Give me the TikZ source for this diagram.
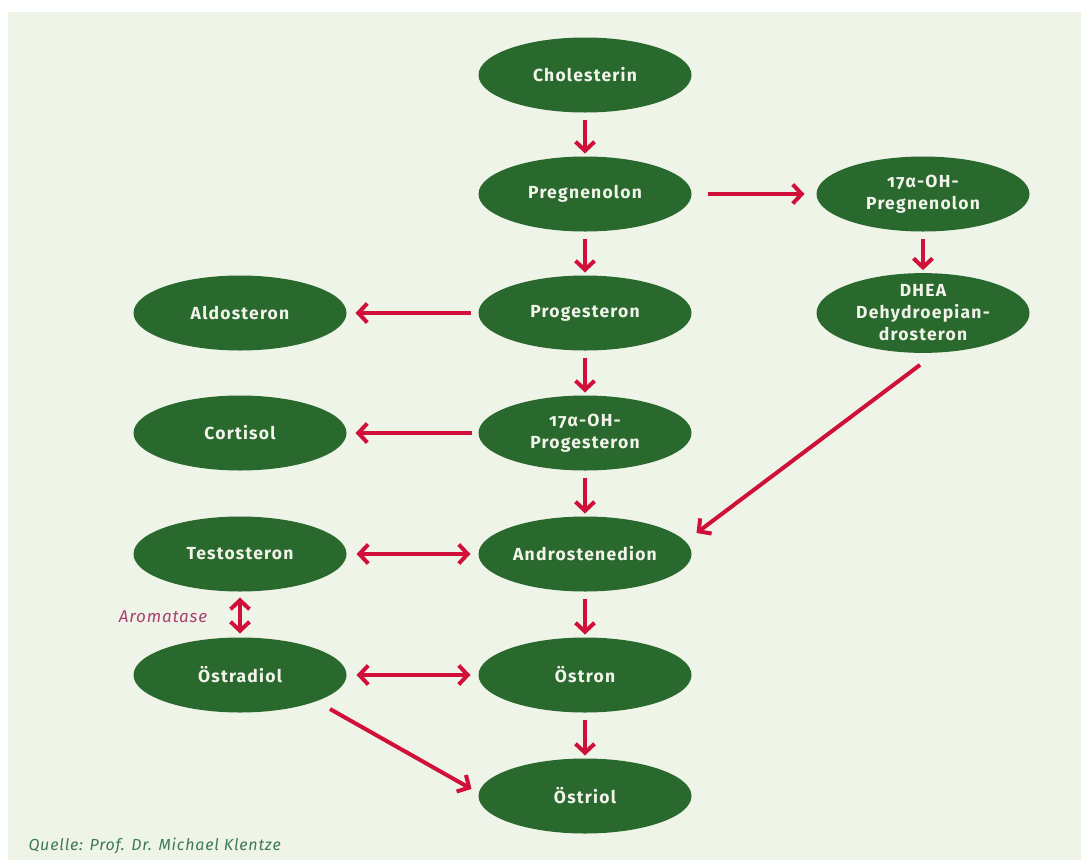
\documentclass[tikz,border=0pt]{standalone}
\usepackage{fontspec}
\usetikzlibrary{shapes.geometric,arrows.meta}
\newfontfamily\nodefont[LetterSpace=7,Numbers=OldStyle]{Fira Sans}
\newfontfamily\capfont[LetterSpace=5]{Fira Sans}
\definecolor{bg}{RGB}{239,244,233}
\definecolor{nodegreen}{RGB}{41,105,45}
\definecolor{arrred}{RGB}{209,16,58}
\definecolor{enzyme}{RGB}{168,65,110}
\definecolor{srcgreen}{RGB}{62,123,85}
\definecolor{txt}{RGB}{242,244,236}
\tikzset{
  hormone/.style={ellipse, fill=nodegreen, minimum width=213pt, minimum height=75pt,
    inner sep=0pt, outer sep=0pt, text=txt, align=center,
    font=\nodefont\bfseries\fontsize{17.5}{22}\selectfont},
  conv/.style={draw=arrred, line width=4pt,
    -{Straight Barb[length=9pt,width=19pt,line width=4pt]}},
  both/.style={draw=arrred, line width=4pt,
    {Straight Barb[length=9pt,width=19pt,line width=4pt]}-{Straight Barb[length=9pt,width=19pt,line width=4pt]}},
}
\begin{document}
\begin{tikzpicture}[x=1pt,y=-1pt]
\useasboundingbox (0,0) rectangle (1081,863);
\fill[bg] (8,12) rectangle (1081,860);
\node[hormone] (chol) at (585,75) {Cholesterin};
\node[hormone] (preg) at (585,194) {Pregnenolon};
\node[hormone] (ohpreg) at (923,194) {17α-OH-\\Pregnenolon};
\node[hormone] (prog) at (585,313) {Progesteron};
\node[hormone] (dhea) at (923,313) {DHEA\\Dehydroepian-\\drosteron};
\node[hormone] (aldo) at (240,313) {Aldosteron};
\node[hormone] (ohprog) at (585,433) {17α-OH-\\Progesteron};
\node[hormone] (cort) at (240,433) {Cortisol};
\node[hormone] (andro) at (585,554) {Androstenedion};
\node[hormone] (testo) at (240,554) {Testosteron};
\node[hormone] (estradiol) at (240,675) {Östradiol};
\node[hormone] (estron) at (585,675) {Östron};
\node[hormone] (estriol) at (585,796) {Östriol};

\draw[conv, shorten <=7pt, shorten >=3pt] (chol) -- (preg);
\draw[conv, shorten <=16pt, shorten >=12pt] (preg) -- (ohpreg);
\draw[conv, shorten <=7pt, shorten >=3pt] (preg) -- (prog);
\draw[conv, shorten <=7pt, shorten >=3pt] (ohpreg) -- (dhea);
\draw[conv, shorten <=8pt, shorten >=9pt] (prog) -- (aldo);
\draw[conv, shorten <=7pt, shorten >=3pt] (prog) -- (ohprog);
\draw[conv, shorten <=7pt, shorten >=9pt] (ohprog) -- (cort);
\draw[conv, shorten <=7pt, shorten >=3pt] (ohprog) -- (andro);
\draw[conv] ([xshift=-3pt,yshift=-12pt]dhea.south) -- ([xshift=5pt,yshift=21pt]andro.east);
\draw[both, shorten <=10pt, shorten >=8pt] (testo) -- (andro);
\draw[both, shorten <=6pt, shorten >=4pt] (testo) -- (estradiol);
\draw[conv, shorten <=7pt, shorten >=3pt] (andro) -- (estron);
\draw[both, shorten <=10pt, shorten >=8pt] (estradiol) -- (estron);
\draw[conv, shorten <=7pt, shorten >=3pt] (estron) -- (estriol);
\draw[conv] ([xshift=90pt,yshift=3.5pt]estradiol.south) -- ([xshift=-7pt,yshift=7pt]estriol.west);

\node[text=enzyme, font=\capfont\itshape\fontsize{17}{20}\selectfont] (arom) at (163,617) {Aromatase};
\node[text=srcgreen, anchor=west, font=\capfont\itshape\fontsize{16}{19}\selectfont] (src) at (25,846) {Quelle: Prof. Dr. Michael Klentze};
\end{tikzpicture}
\end{document}
